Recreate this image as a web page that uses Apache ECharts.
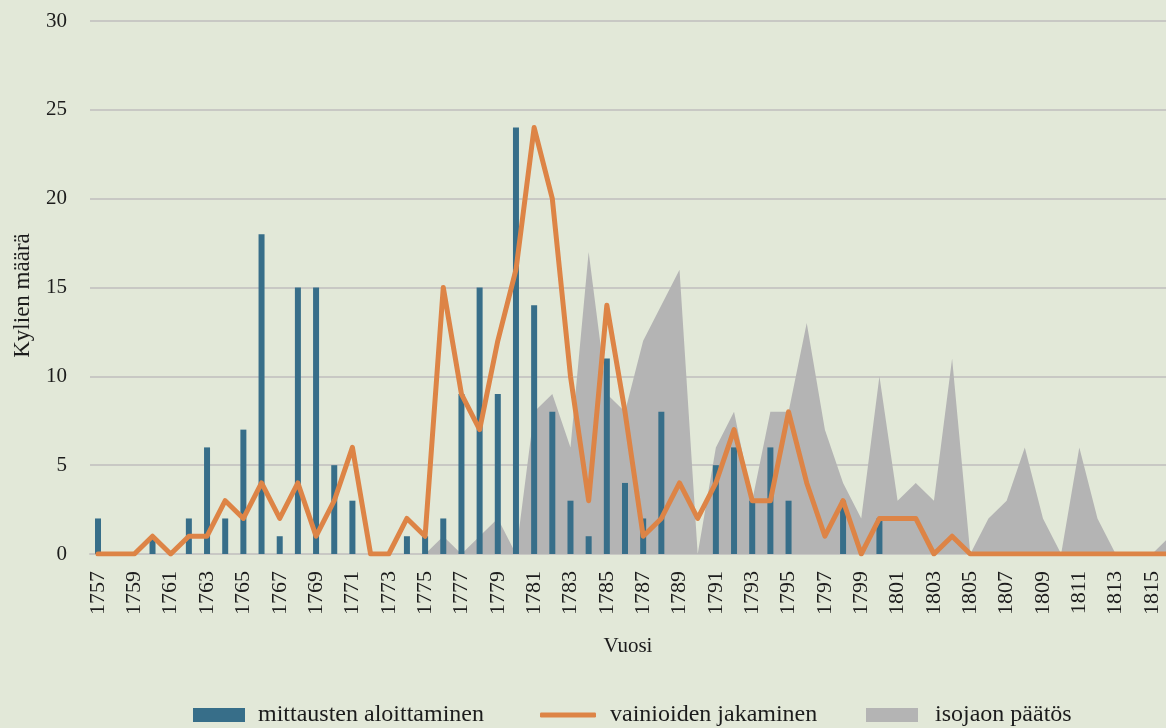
<!DOCTYPE html>
<html>
<head>
<meta charset="utf-8">
<script src="https://cdn.jsdelivr.net/npm/echarts@6/dist/echarts.min.js"></script>
<style>
    html, body { margin: 0; padding: 0; background: #e2e8d8; }
    #chart { width: 1166px; height: 728px; }
</style>
</head>
<body>
<div id="chart"></div>
<script>
const years = [1757, 1758, 1759, 1760, 1761, 1762, 1763, 1764, 1765, 1766,
    1767, 1768, 1769, 1770, 1771, 1772, 1773, 1774, 1775, 1776,
    1777, 1778, 1779, 1780, 1781, 1782, 1783, 1784, 1785, 1786,
    1787, 1788, 1789, 1790, 1791, 1792, 1793, 1794, 1795, 1796,
    1797, 1798, 1799, 1800, 1801, 1802, 1803, 1804, 1805, 1806,
    1807, 1808, 1809, 1810, 1811, 1812, 1813, 1814, 1815, 1816];

const xTickLabels = [1757, 1759, 1761, 1763, 1765, 1767, 1769, 1771, 1773, 1775,
    1777, 1779, 1781, 1783, 1785, 1787, 1789, 1791, 1793, 1795,
    1797, 1799, 1801, 1803, 1805, 1807, 1809, 1811, 1813, 1815];

// mittausten aloittaminen (bars)
const mittaukset = [2, 0, 0, 1, 0, 2, 6, 2, 7, 18,
    1, 15, 15, 5, 3, 0, 0, 1, 1, 2,
    9, 15, 9, 24, 14, 8, 3, 1, 11, 4,
    2, 8, 0, 0, 5, 6, 3, 6, 3, 0,
    0, 3, 0, 2, 0, 0, 0, 0, 0, 0,
    0, 0, 0, 0, 0, 0, 0, 0, 0, 0];

// vainioiden jakaminen (line)
const vainiot = [0, 0, 0, 1, 0, 1, 1, 3, 2, 4,
    2, 4, 1, 3, 6, 0, 0, 2, 1, 15,
    9, 7, 12, 16, 24, 20, 10, 3, 14, 8,
    1, 2, 4, 2, 4, 7, 3, 3, 8, 4,
    1, 3, 0, 2, 2, 2, 0, 1, 0, 0,
    0, 0, 0, 0, 0, 0, 0, 0, 0, 0];

// isojaon päätös (area)
const isojako = [0, 0, 0, 0, 0, 0, 0, 0, 0, 0,
    0, 0, 0, 0, 0, 0, 0, 0, 0, 1,
    0, 1, 2, 0, 8, 9, 6, 17, 9, 8,
    12, 14, 16, 0, 6, 8, 3, 8, 8, 13,
    7, 4, 2, 10, 3, 4, 3, 11, 0, 2,
    3, 6, 2, 0, 6, 2, 0, 0, 0, 1];

const yTicks = [0, 5, 10, 15, 20, 25, 30];

const pairs = (vals) => years.map((y, i) => [y, vals[i]]);

const FONT = 'Liberation Serif';
const TEXT = '#1c1c1c';

const legendText = (gap) => ({ fontFamily: FONT, fontSize: 24, color: TEXT, padding: [0, 0, 0, gap] });

const chart = echarts.init(document.getElementById('chart'));
chart.setOption({
    backgroundColor: '#e2e8d8',
    animation: false,
    textStyle: { fontFamily: FONT, color: TEXT },
    grid: { left: 90, right: 0, top: 21, bottom: 174, outerBoundsMode: 'none' },
    legend: [
        {
            left: 193, top: 703, padding: 0, itemWidth: 52, itemHeight: 14,
            data: [{ name: 'mittausten aloittaminen', icon: 'rect' }],
            textStyle: legendText(8)
        },
        {
            left: 540, top: 703, padding: 0, itemWidth: 56, itemHeight: 5,
            data: [{ name: 'vainioiden jakaminen', icon: 'roundRect' }],
            textStyle: legendText(9)
        },
        {
            left: 866, top: 703, padding: 0, itemWidth: 52, itemHeight: 14,
            data: [{ name: 'isojaon päätös', icon: 'rect' }],
            textStyle: legendText(12)
        }
    ],
    xAxis: {
        type: 'value',
        min: 1756.56,
        max: 1815.77,
        name: 'Vuosi',
        nameLocation: 'middle',
        nameGap: 82,
        nameTextStyle: { fontFamily: FONT, fontSize: 21, color: TEXT },
        axisLine: { show: true, lineStyle: { color: '#c8c8c4', width: 2 } },
        axisTick: { show: false },
        splitLine: { show: false },
        axisLabel: {
            customValues: xTickLabels,
            rotate: 90,
            margin: 17,
            fontFamily: FONT,
            fontSize: 22,
            color: TEXT,
            formatter: (v) => String(v)
        }
    },
    yAxis: {
        type: 'value',
        min: 0,
        max: 30,
        interval: 5,
        name: 'Kylien määrä',
        nameLocation: 'middle',
        nameRotate: 90,
        nameGap: 56,
        nameTextStyle: { fontFamily: FONT, fontSize: 23, color: TEXT, padding: [0, 16, 0, 0] },
        axisLine: { show: false },
        axisTick: { show: false },
        axisLabel: {
            customValues: yTicks,
            margin: 23,
            fontFamily: FONT,
            fontSize: 21,
            color: TEXT
        },
        splitLine: { lineStyle: { color: '#c8c8c4', width: 2 } }
    },
    series: [
        {
            name: 'isojaon päätös',
            type: 'line',
            data: pairs(isojako),
            symbol: 'none',
            lineStyle: { width: 0 },
            itemStyle: { color: '#b4b4b4' },
            areaStyle: { color: '#b4b4b4', opacity: 1 },
            z: 1
        },
        {
            name: 'mittausten aloittaminen',
            type: 'bar',
            data: pairs(mittaukset),
            barWidth: 6,
            itemStyle: { color: '#376e89' },
            z: 2
        },
        {
            name: 'vainioiden jakaminen',
            type: 'line',
            data: pairs(vainiot),
            symbol: 'none',
            lineStyle: { width: 5, color: '#dd8446', join: 'round', cap: 'round' },
            itemStyle: { color: '#dd8446' },
            z: 3
        }
    ]
});
</script>
</body>
</html>
